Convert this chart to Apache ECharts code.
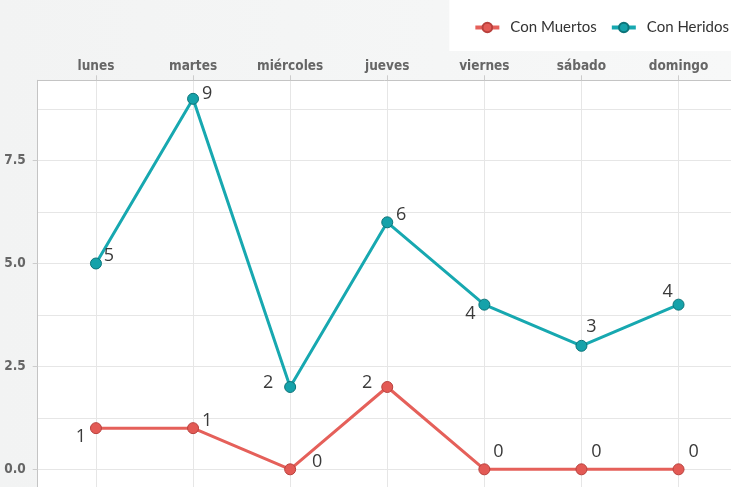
<!DOCTYPE html>
<html>
<head>
<meta charset="utf-8">
<script src="https://cdn.jsdelivr.net/npm/echarts@6/dist/echarts.min.js"></script>
<style>
html,body{margin:0;padding:0;background:#f4f5f5;}
#chart{width:731px;height:487px;}
</style>
</head>
<body>
<div id="chart"></div>
<script>
const categories = ['lunes','martes','miércoles','jueves','viernes','sábado','domingo'];
const conMuertos = [1, 1, 0, 2, 0, 0, 0];
const conHeridos = [5, 9, 2, 6, 4, 3, 4];
const yLabelValues = [0, 2.5, 5, 7.5];
const yGridValues = [0, 1.25, 2.5, 3.75, 5, 6.25, 7.5, 8.75];

// label placement offsets (style only)
const muertosOffsets = [[-15,9],[14,-7],[27,-7],[-20,-4],[14,-17],[15,-17],[15,-17]];
const heridosOffsets = [[13,-8],[14,-5],[-22,-4],[14,-7],[-14,9],[10,-19],[-11,-13]];

const catIdx = categories.map((c,i)=>i);

function buildData(values, offsets){
  return values.map((v,i)=>({
    value:[i,v],
    label:{offset:offsets[i]}
  }));
}

const axisFont = "'DejaVu Sans Condensed','Liberation Sans Narrow',sans-serif";

const labelStyle = {
  show:true, position:'inside',
  formatter: p => String(p.value[1]),
  color:'#3a3a3a', fontSize:18, fontFamily:'Open Sans'
};

const chart = echarts.init(document.getElementById('chart'), null, {renderer:'canvas'});
chart.setOption({
  animation:false,
  backgroundColor:{type:'linear',x:0,y:0,x2:1,y2:0,colorStops:[{offset:0,color:'#f2f3f3'},{offset:1,color:'#f7f8f8'}]},
  legend:{
    data:['Con Muertos','Con Heridos'],
    right:-8, top:0,
    backgroundColor:'#ffffff',
    padding:[20,10,16,24],
    itemWidth:24, itemHeight:12, itemGap:13,
    lineStyle:{width:4},
    textStyle:{color:'#333', fontSize:15, fontFamily:'Lato', padding:[0,0,0,6]}
  },
  grid:{
    show:true, backgroundColor:'#ffffff', borderWidth:0,
    left:37.7, top:80.3, width:699.1, height:409.6,
    outerBoundsMode:'none',
    containLabel:false
  },
  xAxis:{
    type:'value', position:'top', min:-0.6, max:6.6,
    axisLine:{show:true, onZero:false, lineStyle:{color:'#c4c4c4', width:1}},
    axisTick:{show:true, customValues:catIdx, length:5, lineStyle:{color:'#cccccc'}},
    axisLabel:{customValues:catIdx, formatter:v=>categories[Math.round(v)]||'',
      color:'#666', fontSize:13.5, fontWeight:'bold', fontFamily:axisFont, margin:7},
    splitLine:{show:true, lineStyle:{color:'#e6e6e6', width:1}}
  },
  yAxis:[{
    type:'value', min:-0.5, max:9.45, position:'left',
    axisLine:{show:true, onZero:false, lineStyle:{color:'#c4c4c4', width:1}},
    axisTick:{show:true, customValues:yLabelValues, length:5, lineStyle:{color:'#cccccc'}},
    axisLabel:{customValues:yLabelValues, formatter:v=>v.toFixed(1),
      color:'#666', fontSize:13.5, fontWeight:'bold', fontFamily:axisFont, margin:12},
    splitLine:{show:false}
  },{
    type:'value', min:-0.5, max:9.45, position:'left',
    axisLine:{show:false, onZero:false},
    axisTick:{show:false, customValues:yGridValues},
    axisLabel:{show:false, customValues:yGridValues},
    splitLine:{show:true, lineStyle:{color:'#e6e6e6', width:1}}
  }],
  series:[{
    name:'Con Muertos', type:'line', yAxisIndex:0,
    data:buildData(conMuertos, muertosOffsets),
    symbol:'circle', symbolSize:11,
    lineStyle:{color:'#e5605a', width:3},
    itemStyle:{color:'#e35a55', borderColor:'#b9413d', borderWidth:1},
    label:labelStyle, z:3
  },{
    name:'Con Heridos', type:'line', yAxisIndex:0,
    data:buildData(conHeridos, heridosOffsets),
    symbol:'circle', symbolSize:11,
    lineStyle:{color:'#17a8b0', width:3},
    itemStyle:{color:'#15a2aa', borderColor:'#0c7479', borderWidth:1},
    label:labelStyle, z:4
  }]
});
</script>
</body>
</html>
